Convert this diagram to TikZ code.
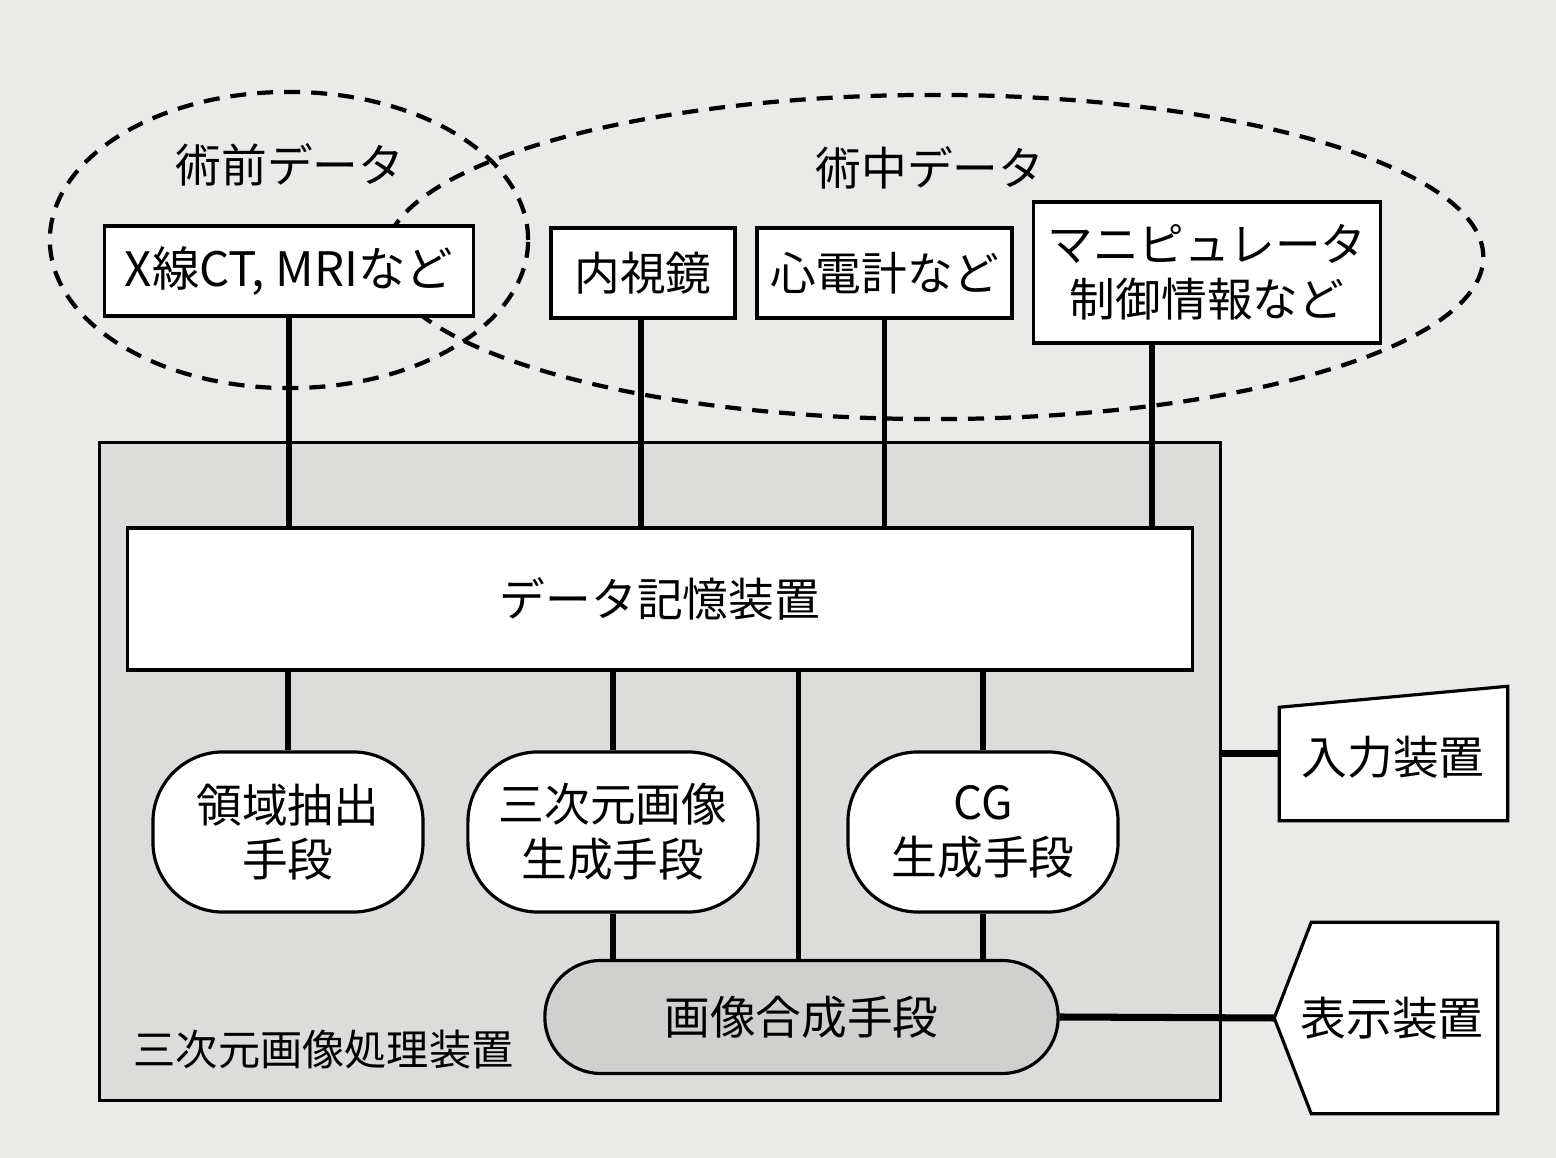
\documentclass[tikz,border=0pt]{standalone}
\usepackage{fontspec}
\setmainfont{Noto Sans CJK JP}
\usetikzlibrary{shapes.geometric,calc}
\definecolor{pagebg}{HTML}{EAEAE8}
\definecolor{innerbg}{HTML}{DCDCDB}
\definecolor{compbg}{HTML}{D0D0CF}
\begin{document}
\begin{tikzpicture}[x=0.01cm,y=-0.01cm,
  every node/.style={font=\fontsize{13pt}{15.5pt}\selectfont, inner sep=0pt, align=center},
  box/.style={draw, line width=0.9pt, fill=white},
  dashell/.style={ellipse, draw, dash pattern=on 0.16cm off 0.11cm, line width=1.2pt},
  wire/.style={line width=1.7pt},
  rnd/.style={box, rounded corners=0.7cm},
  lbl/.style={font=\fontsize{13pt}{15.5pt}\selectfont}
]
\fill[pagebg] (0,0) rectangle (1556,1158);
\useasboundingbox (0,0) rectangle (1556,1158);

% data groups
\node[dashell, minimum width=4.78cm, minimum height=2.96cm] (preE) at (289,240) {};
\node[dashell, minimum width=10.98cm, minimum height=3.24cm] (intraE) at (934,257) {};
\node[lbl] (preL) at (290,165) {術前データ};
\node[lbl] (intraL) at (930,168) {術中データ};

% source boxes
\node[box, minimum width=3.68cm, minimum height=0.90cm, font=\fontsize{13.5pt}{16pt}\selectfont] (pre) at (289,271) {X線CT, MRIなど};
\node[box, minimum width=1.84cm, minimum height=0.90cm] (endo) at (643,273) {内視鏡};
\node[box, minimum width=2.55cm, minimum height=0.90cm] (ecg) at (884.5,273) {心電計など};
\node[box, minimum width=3.46cm, minimum height=1.41cm] (mani) at (1207,272.5) {マニピュレータ\\制御情報など};

% processing unit
\node[draw, line width=0.9pt, fill=innerbg, minimum width=11.2cm, minimum height=6.57cm] (big) at (660,771.5) {};
\node[lbl, font=\fontsize{12pt}{15pt}\selectfont, anchor=west] (bigL) at (133,1050) {三次元画像処理装置};

\node[box, minimum width=10.64cm, minimum height=1.42cm] (store) at (660,599) {データ記憶装置};

\node[rnd, minimum width=2.70cm, minimum height=1.60cm] (seg) at (288,832) {領域抽出\\手段};
\node[rnd, minimum width=2.90cm, minimum height=1.60cm] (gen) at (613,832) {三次元画像\\生成手段};
\node[rnd, minimum width=2.70cm, minimum height=1.60cm] (cg) at (983,832) {CG\\生成手段};
\node[box, fill=compbg, rounded corners=0.56cm, minimum width=5.13cm, minimum height=1.13cm] (comp) at (801.5,1017) {画像合成手段};

% external devices
\node[minimum width=2.27cm, minimum height=1.33cm] (in) at (1393.5,753.5) {};
\draw[line width=0.9pt, fill=white] (in.north east) -- (in.south east) -- (in.south west) -- ($(in.north west)+(0,21)$) -- cycle;
\node[lbl] (inL) at (1393,757) {入力装置};

\node[minimum width=1.85cm, minimum height=1.90cm] (disp) at (1404.5,1018) {};
\coordinate (tip) at ($(disp.west)+(-37,0)$);
\draw[line width=0.9pt, fill=white] (disp.north west) -- (disp.north east) -- (disp.south east) -- (disp.south west) -- (tip) -- cycle;
\node[lbl] (dispL) at (1392,1018) {表示装置};

% connectors
\draw[wire] (pre.south) -- (pre.south |- store.north);
\draw[wire] (endo.south -| 641,0) -- (641,0 |- store.north);
\draw[wire] (ecg.south) -- (ecg.south |- store.north);
\coordinate (maniOut) at ($(mani.south)+(-55,0)$);
\draw[wire] (maniOut) -- (maniOut |- store.north);

\draw[wire] (seg.north) -- (seg.north |- store.south);
\draw[wire] (gen.north) -- (gen.north |- store.south);
\coordinate (compIn) at ($(comp.north)+(-3,0)$);
\draw[wire] (compIn) -- (compIn |- store.south);
\draw[wire] (cg.north) -- (cg.north |- store.south);
\draw[wire] (gen.south) -- (gen.south |- comp.north);
\draw[wire] (cg.south) -- (cg.south |- comp.north);

\draw[wire, line width=2pt] (in.west -| big.east) -- (in.west);
\draw[wire, line width=2pt] (comp.east) -- (tip);
\end{tikzpicture}
\end{document}
